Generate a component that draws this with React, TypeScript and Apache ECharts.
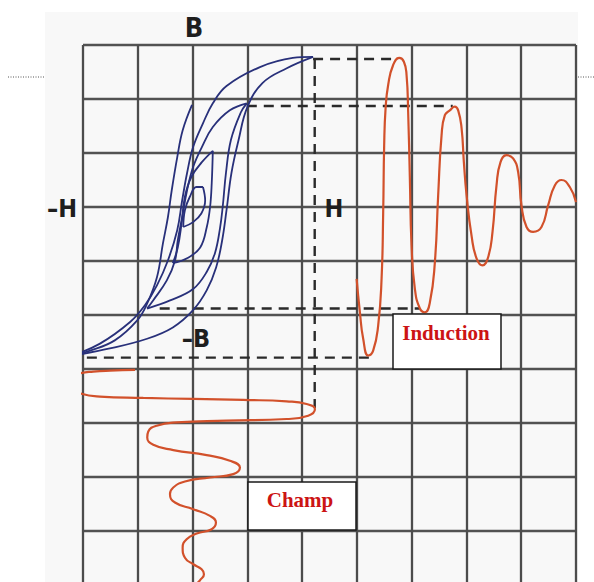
import React, { useEffect, useRef } from "react";
import * as echarts from "echarts";

// Axis frame: x = field H (grid units), y = induction B (grid units)
const xTicks = { min: -2, max: 7, step: 1 };
const yTicks = { min: -7, max: 3, step: 1 };

// Hysteresis loops (H, B)
const outerUp = [
  [-2.22, -2.76], [-1.51, -2.62], [-0.83, -2.44], [-0.36, -2.23], [0.01, -1.91], [0.26, -1.54],
  [0.43, -1.12], [0.54, -0.62], [0.62, -0.06], [0.71, 0.63], [0.84, 1.24], [1.0, 1.85],
  [1.28, 2.3], [1.72, 2.57], [2.2, 2.78],
];
const outerDown = [
  [2.2, 2.78], [1.83, 2.76], [1.23, 2.59], [0.62, 2.24], [0.37, 1.92], [0.19, 1.55], [0.01, 1.11],
  [-0.1, 0.63], [-0.19, 0.12], [-0.28, -0.43], [-0.45, -0.99], [-0.65, -1.45], [-0.87, -1.82],
  [-1.14, -2.13], [-1.69, -2.53], [-2.22, -2.76],
];
const innerBranch = [
  [-0.01, 1.89], [-0.18, 1.42], [-0.28, 0.92], [-0.38, 0.31], [-0.45, -0.19], [-0.54, -0.67],
  [-0.65, -1.3], [-0.83, -1.79], [-1.01, -2.1], [-1.42, -2.47], [-1.87, -2.66], [-2.22, -2.76],
];
const loop2Down = [
  [0.99, 1.92], [0.68, 1.79], [0.37, 1.48], [0.17, 1.11], [0.01, 0.74], [-0.1, 0.31], [-0.19, -0.19],
  [-0.27, -0.62], [-0.32, -0.99], [-0.47, -1.36], [-0.72, -1.73], [-0.83, -1.88],
];
const loop2Up = [
  [-0.83, -1.88], [-0.41, -1.73], [0.01, -1.52], [0.26, -1.2], [0.41, -0.85], [0.5, -0.4],
  [0.55, 0.0], [0.61, 0.63], [0.7, 1.24], [0.88, 1.75], [0.99, 1.92],
];
const loop3Up = [
  [-0.36, -1.04], [-0.1, -0.95], [0.14, -0.75], [0.26, -0.37], [0.32, 0.0], [0.35, 0.44], [0.37, 1.04],
];
const loop3Down = [
  [0.37, 1.04], [0.17, 0.83], [-0.02, 0.56], [-0.14, 0.19], [-0.2, -0.3], [-0.27, -0.75], [-0.36, -1.04],
];
const loop4Down = [
  [0.19, 0.37], [0.07, 0.37], [-0.05, 0.19], [-0.14, -0.06], [-0.17, -0.37],
];
const loop4Up = [
  [-0.17, -0.37], [0.01, -0.28], [0.16, -0.12], [0.23, 0.12], [0.19, 0.37],
];

// Induction vs time (time along x)
const inductionT = [
  2.995, 3.055, 3.115, 3.206, 3.297, 3.389, 3.451, 3.48, 3.498, 3.524, 3.571, 3.662, 3.772, 3.858,
  3.907, 3.936, 3.967, 3.998, 4.058, 4.15, 4.241, 4.332, 4.423, 4.484, 4.546, 4.606, 4.697, 4.788,
  4.849, 4.911, 4.953, 5.002, 5.093, 5.184, 5.294, 5.396, 5.476, 5.549, 5.622, 5.732, 5.852, 5.943,
  6.005, 6.097, 6.217, 6.37, 6.491, 6.613, 6.735, 6.887, 7.0,
];
const inductionB = [
  -1.33, -1.95, -2.44, -2.75, -2.66, -2.19, -1.32, -0.1, 1.14, 1.83, 2.26, 2.63, 2.76, 2.69,
  2.44, 1.76, 0.53, -0.71, -1.51, -1.88, -1.95, -1.77, -1.03, 0.22, 1.33, 1.7, 1.79, 1.86,
  1.79, 1.46, 0.83, 0.22, -0.53, -0.95, -1.08, -0.93, -0.46, 0.4, 0.83, 0.96, 0.9, 0.65,
  0.03, -0.37, -0.46, -0.37, 0.03, 0.4, 0.5, 0.37, 0.09,
];

// Field vs time (time running downward)
const champH = [
  -1.051, -1.507, -1.812, -2.055, -2.188, -2.237, -2.188, -2.055, -1.69, -0.9, 0.013, 0.925, 1.717,
  2.082, 2.234, 2.111, 1.717, 0.622, -0.29, -0.655, -0.808, -0.827, -0.717, -0.352, 0.257, 0.682,
  0.865, 0.743, 0.318, -0.139, -0.352, -0.412, -0.321, 0.013, 0.318, 0.427, 0.349, 0.075, -0.108,
  -0.181, -0.139, 0.013, 0.166, 0.208, 0.135, 0.075, 0.026,
];
const champT = [
  -3.017, -3.03, -3.048, -3.08, -3.141, -3.247, -3.351, -3.451, -3.512, -3.536, -3.555, -3.573, -3.599,
  -3.648, -3.74, -3.865, -3.926, -3.957, -3.989, -4.05, -4.156, -4.267, -4.403, -4.501, -4.594, -4.699,
  -4.824, -4.946, -5.009, -5.083, -5.195, -5.317, -5.473, -5.596, -5.72, -5.844, -5.967, -6.048, -6.152,
  -6.308, -6.494, -6.616, -6.709, -6.801, -6.913, -6.987, -7.11,
];

// Dashed projection lines
const dashLines = [
  [[2.2, 2.74], [3.75, 2.74]],
  [[2.23, 2.74], [2.23, -3.72]],
  [[0.99, 1.87], [4.75, 1.87]],
  [[-0.6, -1.88], [4.15, -1.88]],
  [[-2.24, -2.79], [3.22, -2.79]],
  [[-2.24, -2.79], [-2.24, -3.05]],
];

const BLUE = "#28307a";
const RED = "#d2512b";

export default function App() {
  const ref = useRef<HTMLDivElement>(null);
  useEffect(() => {
    if (!ref.current) return;
    const chart = echarts.init(ref.current, null, { renderer: "svg" });

    const line = (data: number[][], color: string, width: number, smooth: number | boolean, dashed = false) => ({
      type: "line",
      data,
      showSymbol: false,
      symbol: "none",
      smooth,
      silent: true,
      clip: false,
      z: dashed ? 3 : 4,
      lineStyle: { color, width, type: dashed ? [10, 7] : "solid" },
    });

    const zip = (a: number[], b: number[]) => a.map((v, i) => [v, b[i]]);

    const series: any[] = [
      line(outerUp, BLUE, 1.8, 0.4),
      line(outerDown, BLUE, 1.8, 0.4),
      line(innerBranch, BLUE, 1.8, 0.4),
      line(loop2Up, BLUE, 1.8, 0.4),
      line(loop2Down, BLUE, 1.8, 0.4),
      line(loop3Up, BLUE, 1.8, 0.4),
      line(loop3Down, BLUE, 1.8, 0.4),
      line(loop4Up, BLUE, 1.8, 0.4),
      line(loop4Down, BLUE, 1.8, 0.4),
      line(zip(inductionT, inductionB), RED, 2.2, 0.5),
      line(zip(champH, champT), RED, 2.2, 0.5),
      ...dashLines.map((d) => line(d, "#2a2a2a", 2.4, false, true)),
    ];

    const labelFont = '"Liberation Sans Narrow", "DejaVu Sans Condensed", "Liberation Sans", sans-serif';
    const txt = (text: string, x: number, y: number, size: number, fill: string, family: string) => ({
      type: "text",
      x,
      y,
      z: 10,
      style: {
        text,
        fill,
        font: `bold ${size}px ${family}`,
        align: "center",
        verticalAlign: "middle",
        textAlign: "center",
        textVerticalAlign: "middle",
      },
    });

    chart.setOption({
      animation: false,
      backgroundColor: "#ffffff",
      grid: { left: 83, top: 45, width: 493, height: 540, containLabel: false },
      xAxis: {
        type: "value",
        min: xTicks.min,
        max: xTicks.max,
        interval: xTicks.step,
        axisLine: { show: false },
        axisTick: { show: false },
        axisLabel: { show: false },
        splitLine: { show: true, lineStyle: { color: "#4c4c4c", width: 2.3 } },
      },
      yAxis: {
        type: "value",
        min: yTicks.min,
        max: yTicks.max,
        interval: yTicks.step,
        axisLine: { show: false },
        axisTick: { show: false },
        axisLabel: { show: false },
        splitLine: { show: true, lineStyle: { color: "#525252", width: 2.3 } },
      },
      series,
      graphic: [
        { type: "rect", z: -100, shape: { x: 45, y: 12, width: 533, height: 600 }, style: { fill: "#f8f8f8" }, silent: true },
        { type: "line", shape: { x1: 8, y1: 77, x2: 45, y2: 77 }, style: { stroke: "#555", lineWidth: 1, lineDash: [1, 1.5] } },
        { type: "line", shape: { x1: 578, y1: 77, x2: 594, y2: 77 }, style: { stroke: "#555", lineWidth: 1, lineDash: [1, 1.5] } },
        txt("B", 194, 27, 27, "#1e1e1e", labelFont),
        txt("–H", 62, 208, 25, "#1e1e1e", labelFont),
        txt("H", 334, 208, 25, "#1e1e1e", labelFont),
        txt("–B", 196, 338, 25, "#1e1e1e", labelFont),
        { type: "rect", z: 8, shape: { x: 393, y: 314, width: 108, height: 55 }, style: { fill: "#ffffff", stroke: "#1a1a1a", lineWidth: 1.5 } },
        txt("Induction", 446, 333, 21, "#cc1414", '"Liberation Serif", "Times New Roman", serif'),
        { type: "rect", z: 8, shape: { x: 248, y: 482, width: 108, height: 48 }, style: { fill: "#ffffff", stroke: "#1a1a1a", lineWidth: 1.5 } },
        txt("Champ", 300, 500, 21, "#cc1414", '"Liberation Serif", "Times New Roman", serif'),
      ],
    });
    return () => chart.dispose();
  }, []);

  return (
    <div
      ref={ref}
      style={{ position: "fixed", left: 0, top: 0, width: 594, height: 600 }}
    />
  );
}
